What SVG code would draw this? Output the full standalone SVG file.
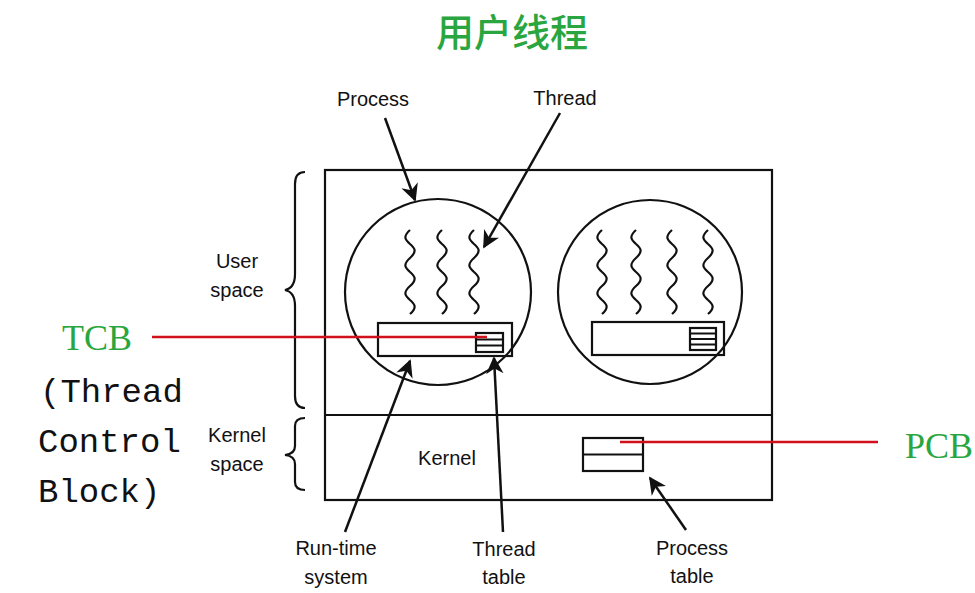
<svg xmlns="http://www.w3.org/2000/svg" width="975" height="593" viewBox="0 0 975 593">
<style>
.s{fill:none;stroke:#111;stroke-width:2.2}
.w{fill:none;stroke:#111;stroke-width:2.2}
.l{font-family:"Liberation Sans",Arial,sans-serif;font-size:20px;fill:#111;text-anchor:middle}
.g{font-family:"Liberation Serif","Times New Roman",serif;font-size:36px;fill:#2aa640}
.m{font-family:"Liberation Mono","Courier New",monospace;font-size:34px;fill:#111}
.r{stroke:#d0101a;stroke-width:2.5}
.a{stroke:#111;stroke-width:2.5;fill:none;marker-end:url(#ah)}
</style>
<defs>
<marker id="ah" viewBox="0 0 10 10" refX="9" refY="5" markerWidth="7" markerHeight="7" orient="auto"><path d="M0,0 L10,5 L0,10 L3,5 z" fill="#111"/></marker>
<path id="sq" d="M0,0 c-16,14 16,14 0,28 c-16,14 16,14 0,28 c-16,14 16,14 0,28" class="w"/>
</defs>
<rect width="975" height="593" fill="#fff"/>
<text x="512" y="46" font-family="'Noto Sans CJK SC',sans-serif" font-size="38" font-weight="500" fill="#2aa640" text-anchor="middle">用户线程</text>
<g id="machine">
<rect x="325" y="170" width="447" height="330" class="s"/>
<line x1="325" y1="415" x2="772" y2="415" class="s"/>
</g>
<g id="process1">
<circle cx="438" cy="292" r="93" class="s"/>
<use href="#sq" x="410" y="230"/><use href="#sq" x="442" y="230"/><use href="#sq" x="474" y="230"/>
<rect x="378" y="323" width="134" height="33" class="s"/>
<rect x="476" y="333" width="27" height="19" class="s"/>
<path d="M476,339.5H503M476,345.5H503" class="s" stroke-width="1.5"/>
</g>
<g id="process2">
<circle cx="650" cy="292" r="92" class="s"/>
<use href="#sq" x="602" y="230"/><use href="#sq" x="636" y="230"/><use href="#sq" x="672" y="230"/><use href="#sq" x="708" y="230"/>
<rect x="592" y="322" width="132" height="33" class="s"/>
<rect x="690" y="328" width="26" height="22" class="s"/>
<path d="M690,333.5H716M690,339H716M690,344.5H716" class="s" stroke-width="1.5"/>
</g>
<g id="kernel">
<text x="447" y="465" class="l">Kernel</text>
<rect x="583" y="438" width="60" height="33" class="s"/>
<line x1="583" y1="454.5" x2="643" y2="454.5" class="s"/>
</g>
<g id="braces">
<path d="M305,172 q-10,0 -10,12 v90 q0,14 -10,16 q10,2 10,16 v90 q0,12 10,12" class="s" stroke-width="1.5"/>
<path d="M305,418 q-10,0 -10,8 v20 q0,8 -10,9 q10,1 10,9 v18 q0,8 10,8" class="s" stroke-width="1.5"/>
<text x="237" y="268" class="l">User</text><text x="237" y="297" class="l">space</text>
<text x="237" y="442" class="l">Kernel</text><text x="237" y="471" class="l">space</text>
</g>
<g id="labels">
<text x="373" y="106" class="l">Process</text>
<text x="565" y="105" class="l">Thread</text>
<text x="336" y="555" class="l">Run-time</text><text x="336" y="584" class="l">system</text>
<text x="504" y="556" class="l">Thread</text><text x="504" y="584" class="l">table</text>
<text x="692" y="555" class="l">Process</text><text x="692" y="583" class="l">table</text>
<text x="62" y="350" class="g">TCB</text>
<text x="905" y="458" class="g">PCB</text>
<text x="40" y="402" class="m">(Thread</text>
<text x="38" y="452" class="m">Control</text>
<text x="38" y="502" class="m">Block)</text>
</g>
<g id="connectors">
<line x1="385" y1="118" x2="415" y2="200" class="a"/>
<line x1="560" y1="113" x2="484" y2="247" class="a"/>
<line x1="345" y1="532" x2="410" y2="361" class="a"/>
<line x1="503" y1="532" x2="494" y2="358" class="a"/>
<line x1="686" y1="530" x2="650" y2="478" class="a"/>
<line x1="152" y1="337" x2="487" y2="337" class="r"/>
<line x1="620" y1="442" x2="878" y2="442" class="r"/>
</g>
</svg>
